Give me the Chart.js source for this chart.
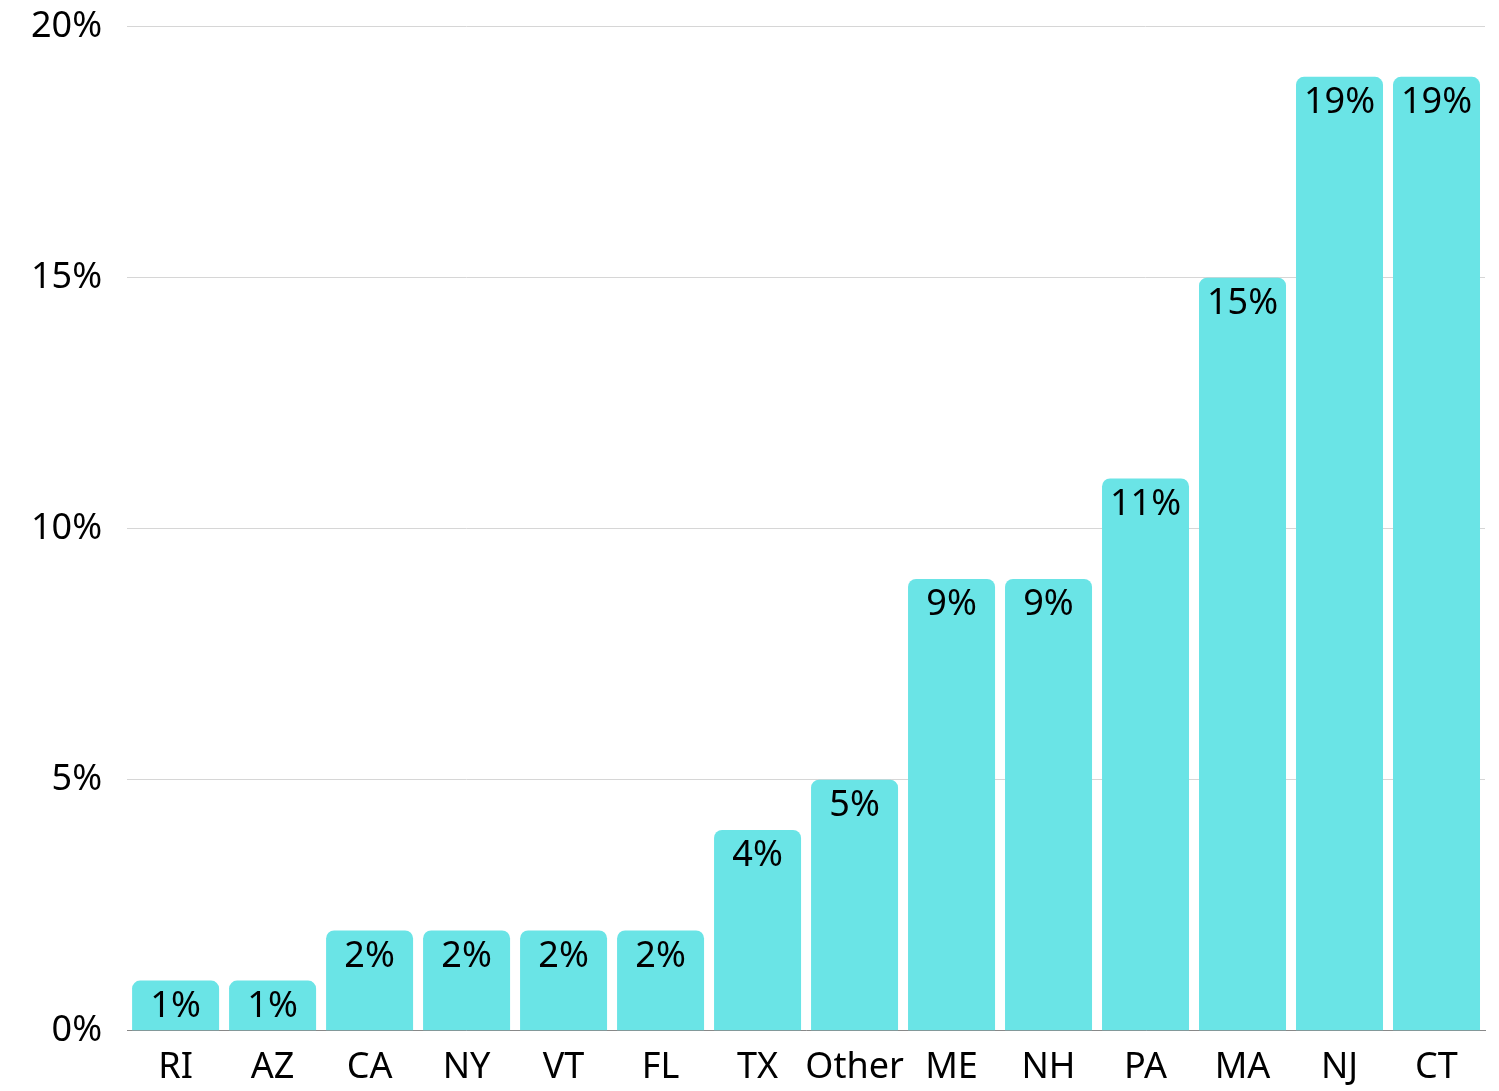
<!DOCTYPE html>
<html>
<head>
<meta charset="utf-8">
<script src="https://cdn.jsdelivr.net/npm/chart.js@4"></script>
<style>
  html, body { margin: 0; padding: 0; background: #fff; overflow: hidden; }
  #wrap { width: 1499px; height: 1124px; position: relative; margin-top: -20px; }
</style>
</head>
<body>
<div id="wrap"><canvas id="chart"></canvas></div>
<script>
const states = ['RI', 'AZ', 'CA', 'NY', 'VT', 'FL', 'TX', 'Other', 'ME', 'NH', 'PA', 'MA', 'NJ', 'CT'];
const shares = [1, 1, 2, 2, 2, 2, 4, 5, 9, 9, 11, 15, 19, 19];
const yTicks = [0, 5, 10, 15, 20];

const FONT = 'Noto Sans';

// labels drawn inside the top of each bar
const barLabels = {
  id: 'barLabels',
  afterDatasetsDraw(chart) {
    const ctx = chart.ctx;
    const meta = chart.getDatasetMeta(0);
    ctx.save();
    ctx.font = `36px "${FONT}"`;
    ctx.fillStyle = '#000';
    ctx.textAlign = 'center';
    ctx.textBaseline = 'middle';
    meta.data.forEach((bar, i) => {
      ctx.fillText(shares[i] + '%', bar.x, bar.y + 26);
    });
    ctx.restore();
  }
};

new Chart(document.getElementById('chart'), {
  type: 'bar',
  data: {
    labels: states,
    datasets: [{
      data: shares,
      backgroundColor: '#6ae4e6',
      borderRadius: 8,
      borderSkipped: 'start',
      barPercentage: 0.897,
      categoryPercentage: 1
    }]
  },
  options: {
    responsive: true,
    maintainAspectRatio: false,
    animation: false,
    layout: { padding: { left: 6, right: 14, top: 6, bottom: 0 } },
    plugins: { legend: { display: false }, tooltip: { enabled: false } },
    scales: {
      y: {
        min: 0,
        max: 20,
        afterBuildTicks: axis => { axis.ticks = yTicks.map(v => ({ value: v })); },
        grid: { color: '#d6d6d6', lineWidth: 1, drawTicks: false },
        border: { display: false },
        ticks: {
          padding: 25,
          color: '#000',
          font: { family: FONT, size: 36 },
          callback: v => v + '%'
        }
      },
      x: {
        grid: { display: false, drawTicks: false },
        border: { display: true, color: '#888', width: 1 },
        ticks: {
          padding: 15,
          color: '#000',
          maxRotation: 0,
          autoSkip: false,
          font: { family: FONT, size: 36 }
        }
      }
    }
  },
  plugins: [barLabels]
});
</script>
</body>
</html>
